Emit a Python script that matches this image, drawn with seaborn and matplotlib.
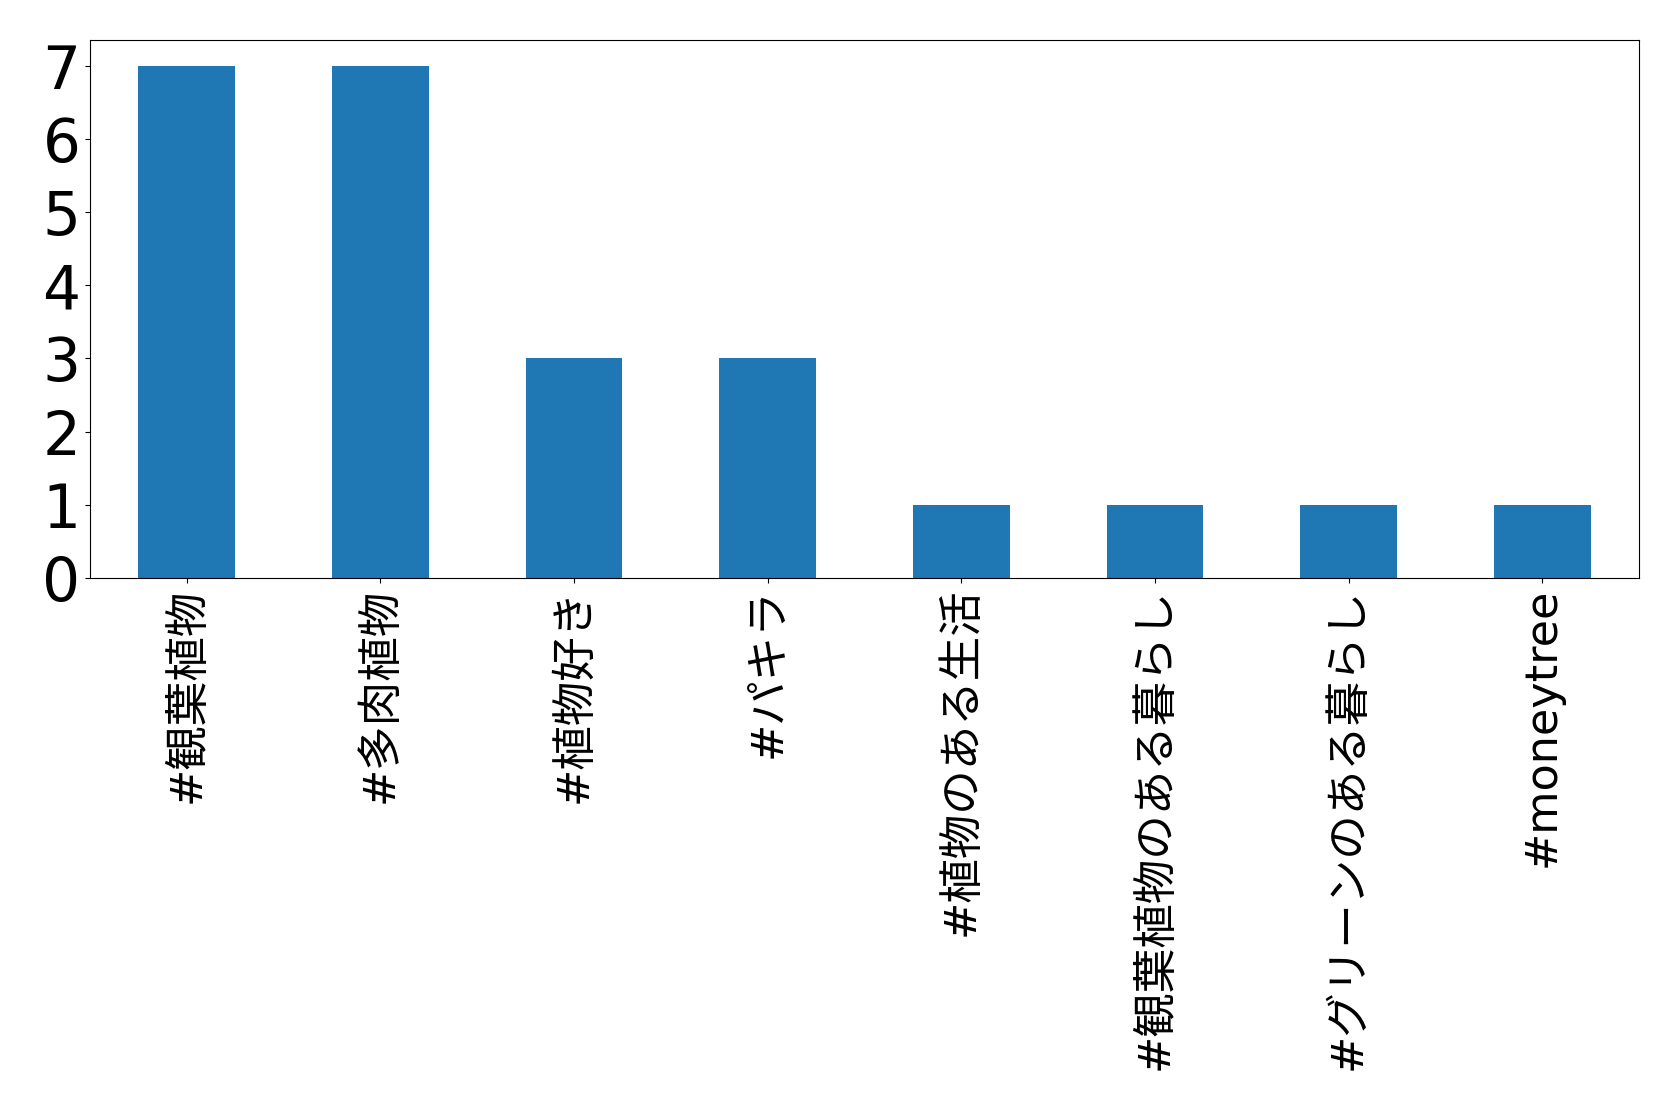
import pandas as pd
import seaborn as sns
import matplotlib
matplotlib.use('Agg')
import matplotlib.pyplot as plt

# hashtag counts (the CJK tags show as missing glyphs in the reference)
hashtags = ['#観葉植物', '#多肉植物', '#植物好き', '#パキラ', '#植物のある生活',
            '#観葉植物のある暮らし', '#グリーンのある暮らし', '#moneytree']
counts = [7, 7, 3, 3, 1, 1, 1, 1]


def plot_hashtags(tags, values):
    df = pd.DataFrame({'tag': tags, 'count': values})
    fig = plt.figure(figsize=(16.79, 10.93), dpi=100)
    ax = fig.add_axes([0.0536, 0.4712, 0.9226, 0.4922])
    sns.barplot(data=df, x='tag', y='count', ax=ax, color='#1f77b4',
                saturation=1, width=0.5)
    ax.set_xlim(-0.5, len(tags) - 0.5)
    ax.set_yticks(range(0, max(values) + 1))
    ax.set_xlabel('')
    ax.set_ylabel('')
    ax.tick_params(axis='y', labelsize=43)
    ax.tick_params(axis='x', labelsize=32)
    for lab in ax.get_xticklabels():
        lab.set_rotation(90)
        lab.set_family(['DejaVu Sans', 'Noto Sans CJK JP'])
    for side in ['top', 'right', 'left', 'bottom']:
        ax.spines[side].set_visible(True)
    fig.savefig('out.png', dpi=100)


def main():
    plot_hashtags(hashtags, counts)


if __name__ == '__main__':
    main()
